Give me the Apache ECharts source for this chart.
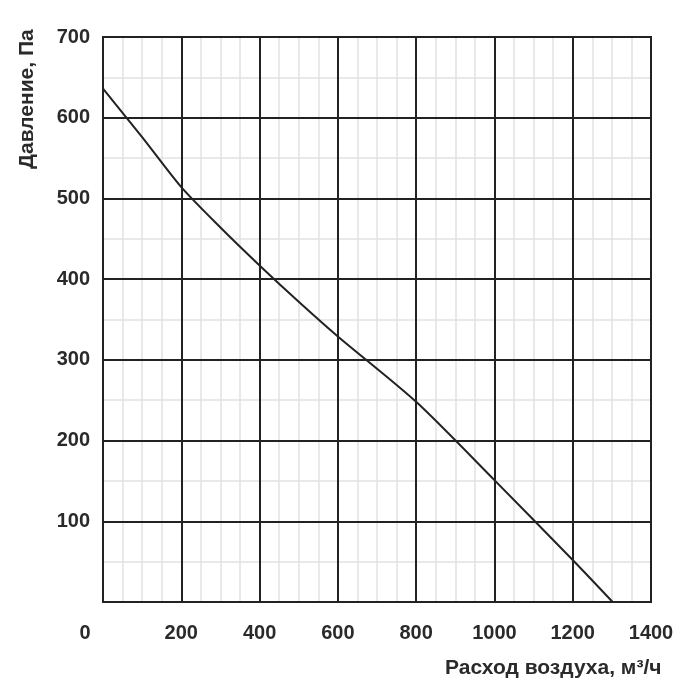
<!DOCTYPE html>
<html>
<head>
<meta charset="utf-8">
<script src="https://cdn.jsdelivr.net/npm/echarts@6/dist/echarts.min.js"></script>
<style>
html,body{margin:0;padding:0;background:#fff;}
#c{width:700px;height:695px;}
</style>
</head>
<body>
<div id="c"></div>
<script>
const flowValues = [0, 100, 200, 300, 400, 500, 600, 800, 1000, 1200, 1302];
const pressureValues = [636, 576, 514, 464, 417, 372, 329, 248, 151, 52, 0];
const xTicks = [0, 200, 400, 600, 800, 1000, 1200, 1400];
const yTicks = [100, 200, 300, 400, 500, 600, 700];
const xTitle = 'Расход воздуха, м³/ч';
const yTitle = 'Давление, Па';

const FONT = '"Liberation Sans", Arial, Helvetica, sans-serif';
const INK = '#222';
const TXT = '#2a2a2a';
const chart = echarts.init(document.getElementById('c'));

// base axes: labels + light minor grid (drawn underneath)
const baseX = {
  type: 'value', min: 0, max: 1400, interval: 200, z: 0,
  axisLine: {show: false},
  axisTick: {show: false},
  splitLine: {show: false},
  minorTick: {show: false, splitNumber: 4},
  minorSplitLine: {show: true, lineStyle: {color: '#e2e2e2', width: 1.5}},
  axisLabel: {
    margin: 21, color: TXT, fontSize: 20, fontFamily: FONT, fontWeight: 'bold',
    formatter: v => v === 0 ? '{z|0}' : (xTicks.indexOf(v) >= 0 ? String(v) : ''),
    rich: {z: {fontSize: 20, fontFamily: FONT, fontWeight: 'bold', color: TXT, padding: [0, 36, 0, 0]}}
  }
};
const baseY = {
  type: 'value', min: 0, max: 700, interval: 100, z: 0,
  axisLine: {show: false},
  axisTick: {show: false},
  splitLine: {show: false},
  minorTick: {show: false, splitNumber: 2},
  minorSplitLine: {show: true, lineStyle: {color: '#e2e2e2', width: 1.5}},
  axisLabel: {
    margin: 13, color: TXT, fontSize: 20, fontFamily: FONT, fontWeight: 'bold',
    formatter: v => yTicks.indexOf(v) >= 0 ? String(v) : ''
  }
};
// overlay axes: dark major grid (drawn on top of minor grid)
const major = (pos, max, interval) => ({
  type: 'value', position: pos, min: 0, max: max, interval: interval, z: 3,
  axisLine: {show: false},
  axisLabel: {show: false}, axisTick: {show: false},
  splitLine: {show: true, lineStyle: {color: INK, width: 2}}
});
chart.setOption({
  animation: false,
  backgroundColor: '#fff',
  grid: {left: 103, right: 49, top: 37, bottom: 93, containLabel: false, show: true, borderColor: INK, borderWidth: 2, backgroundColor: 'transparent', z: 4},
  xAxis: [baseX, major('top', 1400, 200)],
  yAxis: [baseY, major('right', 700, 100)],
  graphic: [
    {type: 'text', left: 445, top: 658, style: {text: xTitle, fill: TXT, font: 'bold 21px ' + FONT}},
    {type: 'text', x: 17, y: 169, rotation: Math.PI / 2,
     style: {text: yTitle, fill: TXT, font: 'bold 21px ' + FONT, textAlign: 'left', textVerticalAlign: 'top'}}
  ],
  series: [{
    type: 'line',
    z: 5,
    data: flowValues.map((x, i) => [x, pressureValues[i]]),
    showSymbol: false,
    smooth: 0.25,
    lineStyle: {color: INK, width: 2}
  }]
});
</script>
</body>
</html>
